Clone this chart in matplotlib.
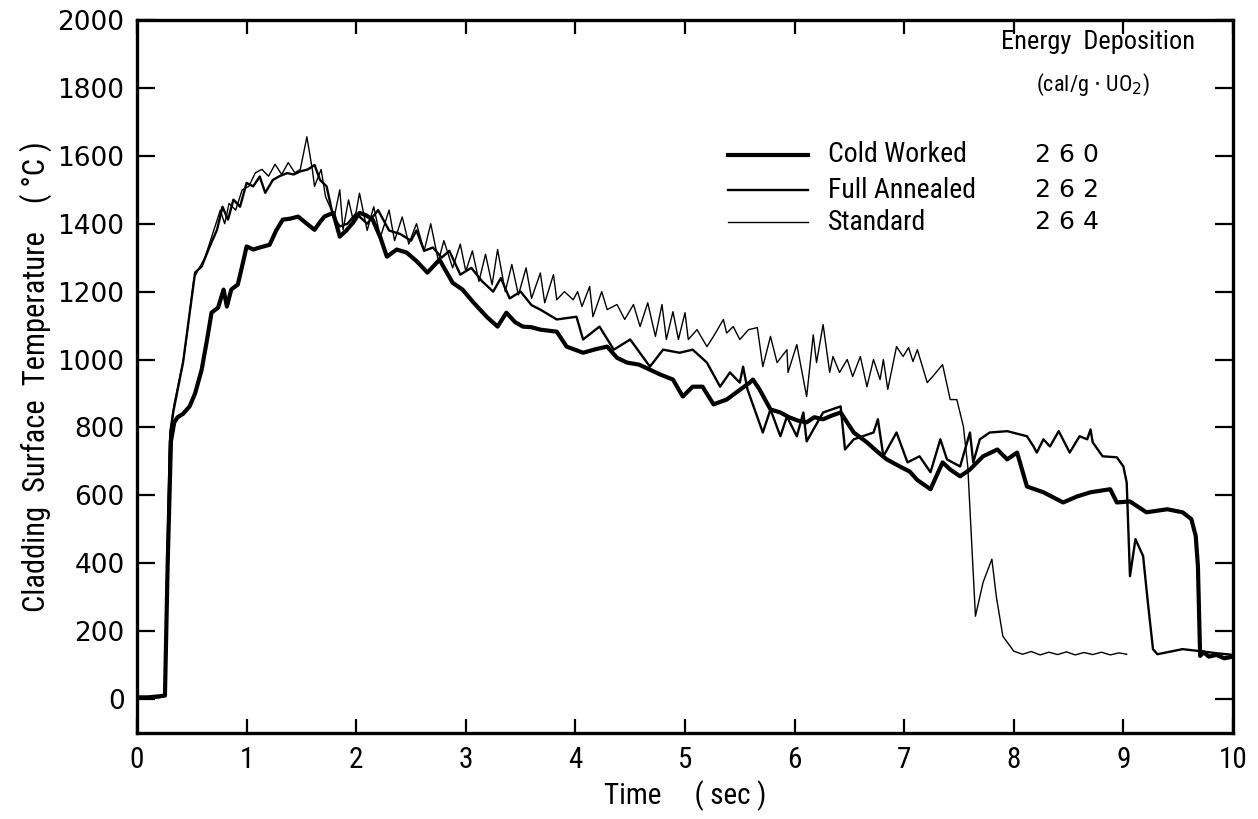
import matplotlib
matplotlib.use("Agg")
import matplotlib.pyplot as plt
from matplotlib import font_manager

# ---- data: cladding surface temperature traces -------------------------
cw_time = [0, 0.1, 0.2, 0.255, 0.28, 0.31, 0.34, 0.37, 0.42, 0.48,
           0.53, 0.59, 0.64, 0.68, 0.74, 0.79, 0.82, 0.86, 0.92, 0.97,
           1.0, 1.06, 1.12, 1.21, 1.27, 1.33, 1.40, 1.47, 1.55, 1.62,
           1.67, 1.71, 1.79, 1.85, 1.91, 1.97, 2.03, 2.09, 2.15, 2.22,
           2.28, 2.37, 2.46, 2.55, 2.65, 2.76, 2.88, 2.97, 3.07, 3.19,
           3.29, 3.37, 3.45, 3.52, 3.60, 3.68, 3.83, 3.92, 4.07, 4.18,
           4.29, 4.38, 4.47, 4.58, 4.68, 4.78, 4.89, 4.98, 5.07, 5.16,
           5.26, 5.38, 5.59, 5.62, 5.68, 5.78, 5.87, 5.95, 6.03, 6.11,
           6.18, 6.26, 6.34, 6.42, 6.54, 6.66, 6.75, 6.84, 6.96, 7.05,
           7.12, 7.24, 7.35, 7.42, 7.51, 7.60, 7.72, 7.85, 7.94, 8.03,
           8.12, 8.27, 8.45, 8.58, 8.70, 8.88, 8.94, 9.06, 9.21, 9.40,
           9.54, 9.62, 9.66, 9.68, 9.70, 9.73, 9.78, 9.85, 9.92, 10.0]
cw_temp = [5, 5, 8, 10, 400, 760, 815, 830, 840, 862,
           900, 970, 1060, 1138, 1153, 1206, 1156, 1206, 1221, 1290,
           1333, 1324, 1330, 1338, 1380, 1412, 1415, 1421, 1400, 1382,
           1405, 1421, 1432, 1362, 1380, 1403, 1432, 1425, 1412, 1360,
           1303, 1324, 1315, 1290, 1256, 1294, 1226, 1206, 1168, 1126,
           1097, 1138, 1110, 1097, 1095, 1088, 1082, 1038, 1020, 1030,
           1038, 1005, 991, 985, 970, 955, 941, 891, 920, 920,
           868, 882, 932, 941, 912, 853, 844, 830, 820, 815,
           830, 824, 835, 844, 785, 756, 730, 706, 685, 670,
           645, 618, 697, 676, 656, 676, 715, 735, 706, 726,
           626, 609, 579, 597, 609, 618, 579, 582, 550, 559,
           550, 530, 480, 391, 127, 138, 125, 130, 120, 125]

fa_time = [0, 0.2, 0.255, 0.28, 0.30, 0.33, 0.42, 0.53, 0.59, 0.66,
           0.73, 0.78, 0.83, 0.88, 0.94, 1.0, 1.06, 1.12, 1.17, 1.24,
           1.30, 1.37, 1.43, 1.49, 1.56, 1.62, 1.67, 1.73, 1.79, 1.85,
           1.92, 2.0, 2.1, 2.2, 2.3, 2.4, 2.5, 2.55, 2.62, 2.7,
           2.78, 2.85, 2.95, 3.05, 3.15, 3.25, 3.32, 3.4, 3.5, 3.6,
           3.68, 3.83, 4.01, 4.07, 4.22, 4.35, 4.50, 4.68, 4.80, 4.95,
           5.07, 5.20, 5.32, 5.41, 5.50, 5.53, 5.57, 5.71, 5.78, 5.87,
           5.93, 6.02, 6.08, 6.11, 6.26, 6.42, 6.46, 6.54, 6.72, 6.76,
           6.81, 6.93, 7.03, 7.14, 7.24, 7.33, 7.39, 7.51, 7.60, 7.63,
           7.69, 7.78, 7.94, 8.12, 8.18, 8.21, 8.27, 8.33, 8.41, 8.51,
           8.60, 8.67, 8.70, 8.72, 8.81, 8.94, 9.0, 9.03, 9.06, 9.11,
           9.18, 9.22, 9.27, 9.31, 9.54, 9.70, 9.85, 10.0]
fa_temp = [5, 5, 10, 450, 760, 844, 991, 1256, 1274, 1330,
           1382, 1450, 1412, 1471, 1450, 1520, 1510, 1539, 1491, 1529,
           1540, 1549, 1545, 1554, 1560, 1573, 1529, 1510, 1421, 1392,
           1400, 1430, 1400, 1440, 1380, 1370, 1350, 1380, 1320, 1330,
           1300, 1320, 1250, 1270, 1230, 1200, 1240, 1180, 1200, 1160,
           1147, 1118, 1126, 1059, 1097, 1029, 1059, 979, 1029, 1020,
           1029, 991, 920, 962, 932, 979, 912, 785, 853, 774,
           832, 774, 844, 759, 844, 862, 735, 765, 785, 824,
           715, 785, 697, 715, 668, 765, 706, 685, 785, 697,
           765, 785, 789, 774, 744, 726, 765, 744, 789, 726,
           774, 765, 794, 756, 715, 712, 685, 638, 362, 471,
           421, 294, 147, 132, 147, 141, 135, 130]

st_time = [0, 0.2, 0.255, 0.28, 0.30, 0.34, 0.43, 0.52, 0.56, 0.62,
           0.70, 0.76, 0.80, 0.84, 0.90, 0.96, 1.02, 1.08, 1.14, 1.20,
           1.26, 1.32, 1.38, 1.44, 1.49, 1.55, 1.60, 1.62, 1.68, 1.72,
           1.80, 1.85, 1.88, 1.93, 1.98, 2.03, 2.10, 2.16, 2.22, 2.30,
           2.35, 2.42, 2.48, 2.55, 2.62, 2.68, 2.75, 2.80, 2.88, 2.95,
           3.00, 3.06, 3.12, 3.18, 3.24, 3.29, 3.36, 3.42, 3.48, 3.55,
           3.60, 3.68, 3.72, 3.80, 3.83, 3.90, 3.98, 4.02, 4.06, 4.13,
           4.16, 4.24, 4.29, 4.38, 4.45, 4.53, 4.59, 4.66, 4.73, 4.79,
           4.83, 4.89, 4.94, 5.00, 5.03, 5.11, 5.20, 5.26, 5.35, 5.38,
           5.44, 5.50, 5.58, 5.66, 5.71, 5.78, 5.84, 5.93, 5.94, 6.02,
           6.11, 6.17, 6.20, 6.26, 6.32, 6.35, 6.41, 6.48, 6.53, 6.60,
           6.66, 6.72, 6.78, 6.81, 6.85, 6.93, 6.99, 7.04, 7.08, 7.12,
           7.21, 7.26, 7.35, 7.42, 7.48, 7.54, 7.58, 7.65, 7.72, 7.80,
           7.84, 7.90, 8.00, 8.08, 8.16, 8.24, 8.32, 8.40, 8.48, 8.56,
           8.64, 8.72, 8.80, 8.88, 8.96, 9.03]
st_temp = [5, 5, 10, 480, 790, 870, 1010, 1240, 1265, 1300,
           1380, 1440, 1400, 1460, 1440, 1500, 1510, 1550, 1560, 1540,
           1575, 1545, 1580, 1550, 1560, 1656, 1559, 1510, 1560, 1480,
           1420, 1500, 1382, 1470, 1400, 1490, 1380, 1450, 1360, 1440,
           1350, 1420, 1340, 1400, 1320, 1400, 1290, 1350, 1270, 1340,
           1260, 1320, 1230, 1310, 1220, 1324, 1200, 1280, 1190, 1270,
           1180, 1255, 1167, 1250, 1176, 1200, 1176, 1200, 1156, 1215,
           1126, 1200, 1147, 1162, 1118, 1162, 1097, 1167, 1068, 1162,
           1059, 1141, 1059, 1138, 1059, 1088, 1038, 1068, 1118, 1078,
           1097, 1059, 1088, 1094, 979, 1068, 991, 1029, 962, 1044,
           891, 1073, 991, 1103, 962, 1009, 962, 1000, 950, 1009,
           920, 1000, 941, 1000, 912, 1038, 1009, 1035, 994, 1029,
           932, 950, 985, 882, 882, 803, 685, 244, 344, 412,
           303, 185, 141, 132, 140, 130, 138, 131, 139, 130,
           137, 131, 138, 130, 136, 132]

series_names = ["Cold Worked", "Full Annealed", "Standard"]
energy_values = ["2 6 0", "2 6 2", "2 6 4"]
x_ticks = list(range(0, 11))
y_ticks = list(range(0, 2001, 200))


def pick_font(candidates):
    names = {f.name for f in font_manager.fontManager.ttflist}
    for c in candidates:
        if c in names:
            return c
    return "DejaVu Sans"


narrow = pick_font(["Liberation Sans Narrow", "DejaVu Sans Condensed", "Roboto Condensed", "Open Sans"])
wide = "DejaVu Sans"

fig = plt.figure(figsize=(12.58, 8.19), dpi=100)
ax = fig.add_axes([137 / 1258, 1 - 733 / 819, (1233 - 137) / 1258, (733 - 20) / 819])

ax.plot(cw_time, cw_temp, color="black", lw=3.0, solid_joinstyle="round")
ax.plot(fa_time, fa_temp, color="black", lw=1.7, solid_joinstyle="round")
ax.plot(st_time, st_temp, color="black", lw=1.0, solid_joinstyle="round")

ax.set_xlim(0, 10)
ax.set_ylim(-100, 2000)
ax.set_xticks(x_ticks)
ax.set_yticks(y_ticks)
ax.set_xticklabels([str(v) for v in x_ticks], fontfamily=narrow, fontsize=21)
ax.set_yticklabels([str(v) for v in y_ticks], fontfamily=wide, fontsize=19)
ax.tick_params(axis="x", direction="in", length=10, width=1.6, top=True, pad=9)
ax.tick_params(axis="y", direction="in", length=13, width=1.6, right=True, pad=9)
for sp in ax.spines.values():
    sp.set_linewidth(2.4)

ax.set_xlabel("Time     ( sec )", fontfamily=narrow, fontsize=21, labelpad=5)
ax.set_ylabel("Cladding  Surface  Temperature    ( °C )", fontfamily=narrow,
              fontsize=22, labelpad=4)

# legend drawn as short line samples with labels and deposition values
def fx(px):
    return (px - 137) / 1096


def fy(py):
    return (733 - py) / 713


ax.text(fx(1098), fy(42), "Energy  Deposition", transform=ax.transAxes,
        fontfamily=narrow, fontsize=19, ha="center", va="center")
ax.text(fx(1093), fy(85), r"(cal/g $\cdot$ UO$_2$)", transform=ax.transAxes,
        fontfamily=narrow, fontsize=16, ha="center", va="center")
legend_rows = [155, 190, 222]
legend_lw = [3.0, 1.7, 1.0]
for name, val, py, lw in zip(series_names, energy_values, legend_rows, legend_lw):
    ax.plot([fx(728), fx(808)], [fy(py), fy(py)], color="black", lw=lw,
            transform=ax.transAxes, clip_on=False)
    ax.text(fx(828), fy(py), name, transform=ax.transAxes, fontfamily=narrow,
            fontsize=20, ha="left", va="center")
    ax.text(fx(1035), fy(py), val, transform=ax.transAxes, fontfamily=wide,
            fontsize=18, ha="left", va="center")

fig.savefig("out.png", dpi=100, facecolor="white")
